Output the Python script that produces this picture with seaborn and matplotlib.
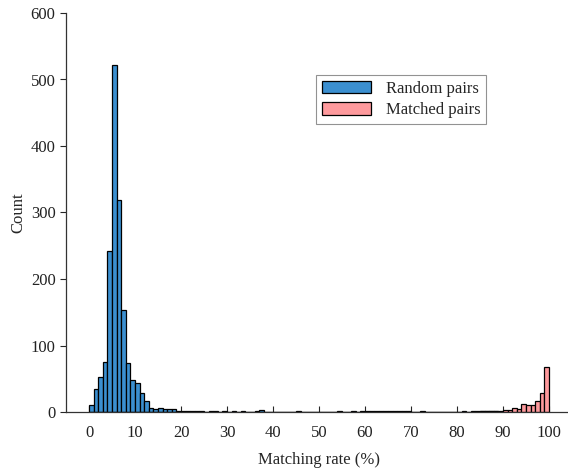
import numpy as np
import pandas as pd
import matplotlib
matplotlib.use("Agg")
import matplotlib.pyplot as plt
import seaborn as sns

# ---- data (counts per 1%-wide bin, bins 0..99) ----
bin_left = list(range(100))

random_counts = [
    10, 34, 52, 75, 242, 522, 319, 154, 73, 48,      # 0-9
    43, 28, 16, 6, 5, 6, 5, 4, 4, 2,                 # 10-19
    1, 1, 2, 1, 1, 0, 1, 1, 0, 1,                    # 20-29
    0, 1, 0, 1, 0, 0, 1, 3, 0, 0,                    # 30-39
    0, 0, 0, 0, 0, 1, 0, 0, 0, 0,                    # 40-49
    0, 0, 0, 0, 1, 0, 0, 1, 0, 1,                    # 50-59
    1, 2, 1, 1, 1, 1, 1, 1, 1, 1,                    # 60-69
    0, 0, 1, 0, 0, 0, 0, 0, 0, 0,                    # 70-79
    0, 1, 0, 1, 1, 1, 1, 1, 1, 0,                    # 80-89
    0, 0, 0, 0, 0, 0, 0, 0, 0, 0,                    # 90-99
]

matched_counts = [0] * 85 + [1, 1, 1, 1, 2, 3, 3, 6, 4, 12, 10, 11, 17, 28, 68]

series_labels = ["Random pairs", "Matched pairs"]
x_ticks = list(range(0, 101, 10))
y_ticks = list(range(0, 601, 100))

df_random = pd.DataFrame({"rate": np.array(bin_left) + 0.5, "count": random_counts})
df_matched = pd.DataFrame({"rate": np.array(bin_left) + 0.5, "count": matched_counts})

sns.set_style("ticks")
plt.rcParams["font.family"] = ["Liberation Serif", "DejaVu Serif"]
plt.rcParams["font.size"] = 11.5

fig = plt.figure(figsize=(5.68, 4.69), dpi=100)
ax = fig.add_axes([66 / 568, 57 / 469, 506 / 568, 399 / 469])

sns.histplot(data=df_random, x="rate", weights="count", binwidth=1, binrange=(0, 100),
             ax=ax, color="#3b8fd0", alpha=1, edgecolor="black", linewidth=0.9,
             label=series_labels[0])
sns.histplot(data=df_matched, x="rate", weights="count", binwidth=1, binrange=(0, 100),
             ax=ax, color="#fe9a9d", alpha=1, edgecolor="black", linewidth=0.9,
             label=series_labels[1])

ax.set_xlim(-5, 105)
ax.set_ylim(0, 600)
ax.set_xticks(x_ticks)
ax.set_yticks(y_ticks)
ax.set_xlabel("Matching rate (%)", fontsize=12, labelpad=8)
ax.set_ylabel("Count", fontsize=12, labelpad=3)
ax.tick_params(axis="x", direction="in", length=4, width=0.8, labelsize=12, pad=9,
               labelcolor="#222222")
ax.tick_params(axis="y", direction="out", length=4, width=0.8, labelsize=12,
               labelcolor="#222222")
for s in ["top", "right"]:
    ax.spines[s].set_visible(False)
for s in ["left", "bottom"]:
    ax.spines[s].set_color("#333333")
    ax.spines[s].set_linewidth(0.9)

leg = ax.legend(loc="upper right", bbox_to_anchor=(0.83, 0.845), borderaxespad=0,
                fancybox=False, frameon=True, edgecolor="#777777", fontsize=12,
                handlelength=2.9, handleheight=0.8, handletextpad=0.9,
                borderpad=0.35, labelspacing=0.3)
leg.get_frame().set_linewidth(0.8)

fig.savefig("out.png", dpi=100)
